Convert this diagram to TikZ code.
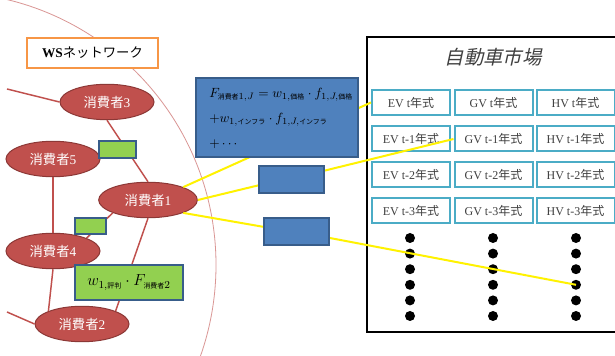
\documentclass[tikz,border=0pt]{standalone}
\usepackage{fontspec}
\setmainfont{Liberation Serif}
\newfontfamily\jp{Noto Sans CJK JP}
\newfontfamily\jpit[FakeSlant=0.22]{Noto Sans CJK JP}
\usetikzlibrary{shapes.geometric,calc}
\pgfdeclarelayer{fg}
\pgfsetlayers{main,fg}

\definecolor{conred}{HTML}{C0504D}
\definecolor{conredline}{HTML}{8C3836}
\definecolor{edgered}{HTML}{C0504D}
\definecolor{arcred}{HTML}{DA9694}
\definecolor{boxgreen}{HTML}{92D050}
\definecolor{boxblue}{HTML}{4F81BD}
\definecolor{boxblueline}{HTML}{385D8A}
\definecolor{cellline}{HTML}{4BACC6}
\definecolor{wsorange}{HTML}{F79646}
\definecolor{celltext}{HTML}{404040}

\newcommand{\jsub}[1]{\mbox{\jp\fontsize{5.2}{6}\selectfont #1}}

\tikzset{
  consumer/.style={ellipse, fill=conred, draw=conredline, line width=0.75pt,
    minimum width=70.5pt, minimum height=26.6pt, inner sep=0pt,
    text=white, font=\fontsize{10}{12}\selectfont},
  netedge/.style={draw=edgered, line width=1.1pt},
  linkline/.style={draw=yellow, line width=1.5pt},
  greenbox/.style={rectangle, fill=boxgreen, draw=boxblueline, line width=1pt, inner sep=0pt},
  bluebox/.style={rectangle, fill=boxblue, draw=boxblueline, line width=0.9pt, inner sep=0pt},
  cell/.style={rectangle, fill=white, draw=cellline, line width=1.5pt,
    minimum width=58.5pt, minimum height=18.75pt, inner sep=0pt,
    text=celltext, font=\fontsize{9}{11}\selectfont},
  dotmark/.style={circle, fill=black, minimum size=7.5pt, inner sep=0pt},
  wsbox/.style={rectangle, fill=white, draw=wsorange, line width=1.5pt,
    minimum width=98pt, minimum height=22.5pt, inner sep=0pt,
    font=\fontsize{10}{12}\selectfont},
}

\begin{document}
\begin{tikzpicture}[x=0.75pt,y=-0.75pt]
\clip (0,0) rectangle (615,356);
\fill[white] (0,0) rectangle (615,356);

% boundary of the small-world network
\draw[arcred, line width=0.6pt] (-57,265) circle [radius=273];

% network label
\node[wsbox] (ws) at (92.5,53) {\textbf{WS}{\jp ネットワーク}};

% consumers
\node[consumer] (c3) at (107,102) {{\jp 消費者}3};
\node[consumer] (c5) at (53,159) {{\jp 消費者}5};
\node[consumer, minimum width=74pt] (c1) at (148,200) {{\jp 消費者}1};
\node[consumer] (c4) at (53,251) {{\jp 消費者}4};
\node[consumer] (c2) at (82,324) {{\jp 消費者}2};
\coordinate (in3) at (7,89);
\coordinate (in2) at (7,312);

% network ties
\draw[netedge] (in3) -- (c3.west);
\draw[netedge] (in2) -- (c2.west);
\draw[netedge] (c3.south) -- (c1.north);
\draw[netedge] (c5.south) -- (c4.north);
\draw[netedge] (c1.south west) -- (c4.north east);
\draw[netedge] (c4.south) -- (c2.north west);
\draw[netedge] (c1.south) -- (c2.north east);

% car market
\draw[black, line width=1.5pt] (367,37) rectangle (640,332);
\node[font=\jpit\fontsize{14.5}{16}\selectfont, text=celltext] (title) at (493,57) {自動車市場};

\foreach \r/\lab/\y in {0/t/102.5, 1/t-1/139, 2/t-2/174.5, 3/t-3/210.5} {
  \node[cell] (ev\r) at (411,\y)   {EV \lab{\jp 年式}};
  \node[cell] (gv\r) at (493.5,\y) {GV \lab{\jp 年式}};
  \node[cell] (hv\r) at (575.5,\y) {HV \lab{\jp 年式}};
}
\foreach \k/\y in {1/238, 2/253.6, 3/269.2, 4/284.8, 5/300.4, 6/316} {
  \node[dotmark] (ed\k) at (410,\y) {};
  \node[dotmark] (gd\k) at (493,\y) {};
  \node[dotmark] (hd\k) at (576,\y) {};
}

% interaction terms
\begin{pgfonlayer}{fg}
\node[bluebox, minimum width=121.5pt, minimum height=59.25pt] (fbox) at (277,117.5) {};
\node[anchor=north west, align=left, inner sep=0pt, font=\fontsize{10}{18.75}\selectfont] (ftext) at (209,88)
  {$F_{\jsub{消費者}1,J} = w_{1,\jsub{価格}}\cdot f_{1,J,\jsub{価格}}$\\
   $+w_{1,\jsub{インフラ}}\cdot f_{1,J,\jsub{インフラ}}$\\
   $+\cdots$};
\node[bluebox, minimum width=48.75pt, minimum height=20.25pt] (r2) at (291.5,179.5) {};
\node[bluebox, minimum width=48.75pt, minimum height=20.25pt] (r3) at (296.5,231.5) {};
\node[greenbox, minimum width=27.75pt, minimum height=12.75pt] (g1) at (117.5,149.5) {};
\node[greenbox, minimum width=23.25pt, minimum height=12pt] (g2) at (90.5,226) {};
\node[greenbox, minimum width=81pt, minimum height=26.25pt, font=\fontsize{12}{14}\selectfont] (g3) at (129,282.5)
  {$w_{1,\jsub{評判}}\cdot F_{\jsub{消費者}2}$};
\end{pgfonlayer}

% links from consumer 1 into the market
\draw[linkline] (c1.north east) -- (ev0.west);
\draw[linkline] (c1.east) -- (r2.190);
\draw[linkline] (r2.15) -- (gv1.west);
\draw[linkline] (c1.south east) -- (r3.172);
\draw[linkline] (r3.-11) -- (hd4.center);
\end{tikzpicture}
\end{document}
